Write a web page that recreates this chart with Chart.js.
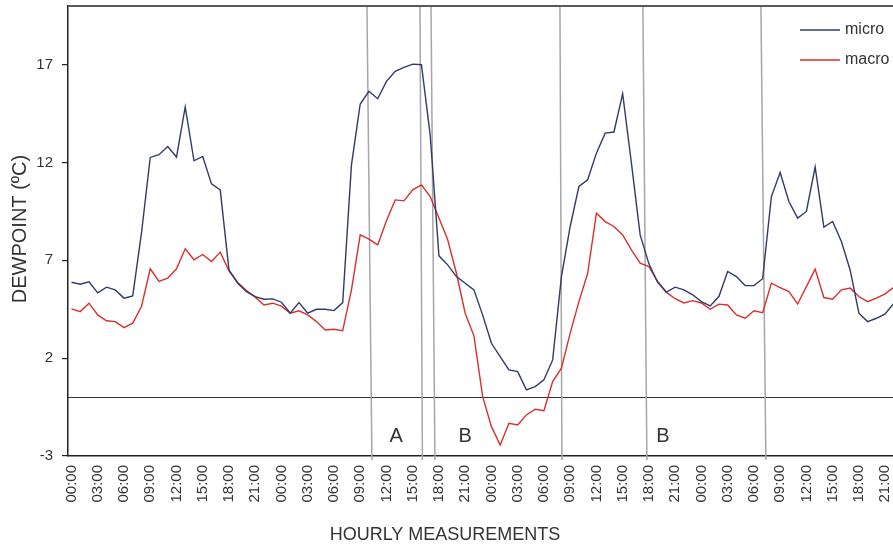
<!DOCTYPE html>
<html><head><meta charset="utf-8">
<script src="https://cdn.jsdelivr.net/npm/chart.js@4.4.1/dist/chart.umd.min.js"></script>
<style>html,body{margin:0;padding:0;background:#fff;overflow:hidden}canvas{display:block}</style>
</head><body>
<canvas id="c" width="893" height="547"></canvas>
<script>
// x tick labels (every 3 hours)
const tickLabels = ['00:00','03:00','06:00','09:00','12:00','15:00','18:00','21:00',
  '00:00','03:00','06:00','09:00','12:00','15:00','18:00','21:00',
  '00:00','03:00','06:00','09:00','12:00','15:00','18:00','21:00',
  '00:00','03:00','06:00','09:00','12:00','15:00','18:00','21:00'];
const yTicks = [-3, 2, 7, 12, 17];

// hourly dewpoint (°C)
const micro = [5.88,5.78,5.9,5.34,5.63,5.49,5.07,5.18,8.4,12.26,
  12.4,12.82,12.28,14.84,12.09,12.31,10.91,10.6,6.51,5.83,
  5.4,5.15,5.01,5.03,4.86,4.3,4.84,4.3,4.5,4.5,
  4.43,4.84,11.88,14.99,15.64,15.26,16.15,16.66,16.86,17.03,
  17.0,13.4,7.23,6.77,6.17,5.83,5.49,4.2,2.76,2.08,
  1.4,1.31,0.38,0.55,0.89,1.91,6.17,8.73,10.78,11.12,
  12.48,13.5,13.56,15.52,11.97,8.3,6.82,5.87,5.38,5.63,
  5.49,5.24,4.89,4.67,5.15,6.43,6.17,5.71,5.71,6.06,
  10.26,11.49,10.01,9.16,9.5,11.77,8.7,8.99,7.96,6.51,
  4.3,3.87,4.04,4.26,4.81];
const macro = [4.52,4.38,4.81,4.21,3.91,3.87,3.56,3.79,4.64,6.57,
  5.92,6.09,6.57,7.59,7.03,7.3,6.94,7.42,6.46,5.87,
  5.46,5.12,4.72,4.81,4.66,4.3,4.42,4.21,3.87,3.44,
  3.48,3.41,5.49,8.3,8.08,7.79,9.02,10.09,10.04,10.6,
  10.86,10.26,9.16,8.05,6.34,4.3,3.14,0.03,-1.5,-2.44,
  -1.33,-1.41,-0.9,-0.61,-0.68,0.8,1.49,3.28,4.89,6.34,
  9.41,8.98,8.73,8.3,7.54,6.86,6.68,5.92,5.36,5.04,
  4.82,4.94,4.82,4.5,4.76,4.72,4.21,4.04,4.42,4.32,
  5.83,5.61,5.4,4.77,5.66,6.55,5.1,5.01,5.49,5.58,
  5.15,4.89,5.07,5.29,5.63];

// period separator lines (hour index at top, at bottom) and period labels
const periodLinesTop    = [33.77, 39.83, 41.09, 55.83, 65.31, 78.8];
const periodLinesBottom = [34.34, 40.11, 41.54, 56.06, 65.77, 79.37];
const periodLabelText = ['A', 'B', 'B'];
const periodLabelHour = [37.1, 45.0, 67.6];
const periodLabelValue = -2.0;

const FONT = '"Liberation Sans", Arial, sans-serif';
const TXT = '#333';

function noPad(s) { s.paddingTop = 0; s.paddingBottom = 0; s.paddingLeft = 0; s.paddingRight = 0; }

const deco = {
  id: 'deco',
  beforeDatasetsDraw(chart) {
    const {ctx, chartArea: a, scales: {x, y}} = chart;
    ctx.save();
    const y0 = Math.round(y.getPixelForValue(0)) + 0.5;
    ctx.strokeStyle = '#333'; ctx.lineWidth = 1.2;
    ctx.beginPath(); ctx.moveTo(a.left, y0); ctx.lineTo(a.right, y0); ctx.stroke();
    ctx.strokeStyle = '#a6a6a6'; ctx.lineWidth = 1.5;
    periodLinesTop.forEach((t, i) => {
      ctx.beginPath();
      ctx.moveTo(x.getPixelForValue(t), a.top - 1);
      ctx.lineTo(x.getPixelForValue(periodLinesBottom[i]), a.bottom + 4);
      ctx.stroke();
    });
    ctx.fillStyle = TXT; ctx.font = '20px ' + FONT;
    ctx.textAlign = 'center'; ctx.textBaseline = 'middle';
    periodLabelText.forEach((t, i) => {
      ctx.fillText(t, x.getPixelForValue(periodLabelHour[i]), y.getPixelForValue(periodLabelValue));
    });
    ctx.restore();
  },
  afterDraw(chart) {
    const {ctx, chartArea: a} = chart;
    ctx.save();
    ctx.strokeStyle = '#595959'; ctx.lineWidth = 2;
    ctx.beginPath(); ctx.moveTo(a.left, a.top); ctx.lineTo(a.right, a.top); ctx.stroke();
    ctx.fillStyle = TXT; ctx.textAlign = 'center'; ctx.textBaseline = 'middle';
    ctx.font = '18px ' + FONT;
    ctx.fillText('HOURLY MEASUREMENTS', 445, 535);
    ctx.save();
    ctx.translate(20, 229); ctx.rotate(-Math.PI / 2);
    ctx.font = '20px ' + FONT;
    ctx.fillText('DEWPOINT (ºC)', 0, 0);
    ctx.restore();
    const items = chart.data.datasets;
    ctx.font = '16px ' + FONT; ctx.textAlign = 'left';
    items.forEach((ds, i) => {
      const yy = 30 + i * 30;
      ctx.strokeStyle = ds.borderColor; ctx.lineWidth = 1.4;
      ctx.beginPath(); ctx.moveTo(800, yy); ctx.lineTo(840, yy); ctx.stroke();
      ctx.fillStyle = TXT;
      ctx.fillText(ds.label, 845, yy);
    });
    ctx.restore();
  }
};

new Chart(document.getElementById('c'), {
  type: 'line',
  data: {
    datasets: [
      {label: 'micro', data: micro.map((v, i) => ({x: i, y: v})), borderColor: '#2e3c6b', borderWidth: 1.4, pointRadius: 0, tension: 0},
      {label: 'macro', data: macro.map((v, i) => ({x: i, y: v})), borderColor: '#d9302b', borderWidth: 1.4, pointRadius: 0, tension: 0}
    ]
  },
  options: {
    responsive: false, animation: false,
    layout: {padding: {top: 6, right: 0, left: 0, bottom: 0}},
    plugins: {legend: {display: false}, tooltip: {enabled: false}},
    scales: {
      x: {
        type: 'linear', min: -0.4, max: 93.9,
        afterBuildTicks(s) { s.ticks = tickLabels.map((_, i) => ({value: i * 3})); },
        afterFit(s) { s.height = 91; noPad(s); },
        grid: {display: false, drawTicks: false},
        border: {display: true, color: '#222', width: 1.5},
        ticks: {
          autoSkip: false, minRotation: 90, maxRotation: 90, padding: 9,
          color: TXT, font: {family: FONT, size: 15},
          callback: (v) => tickLabels[Math.round(v / 3)]
        }
      },
      y: {
        min: -3, max: 20,
        afterBuildTicks(s) { s.ticks = yTicks.map(v => ({value: v})); },
        afterFit(s) { s.width = 68; noPad(s); },
        grid: {drawOnChartArea: false, drawTicks: true, tickLength: 6, color: '#222', lineWidth: 1.2},
        border: {display: true, color: '#222', width: 1.5},
        ticks: {padding: 9, color: TXT, font: {family: FONT, size: 15}}
      }
    }
  },
  plugins: [deco]
});
</script>
</body></html>
